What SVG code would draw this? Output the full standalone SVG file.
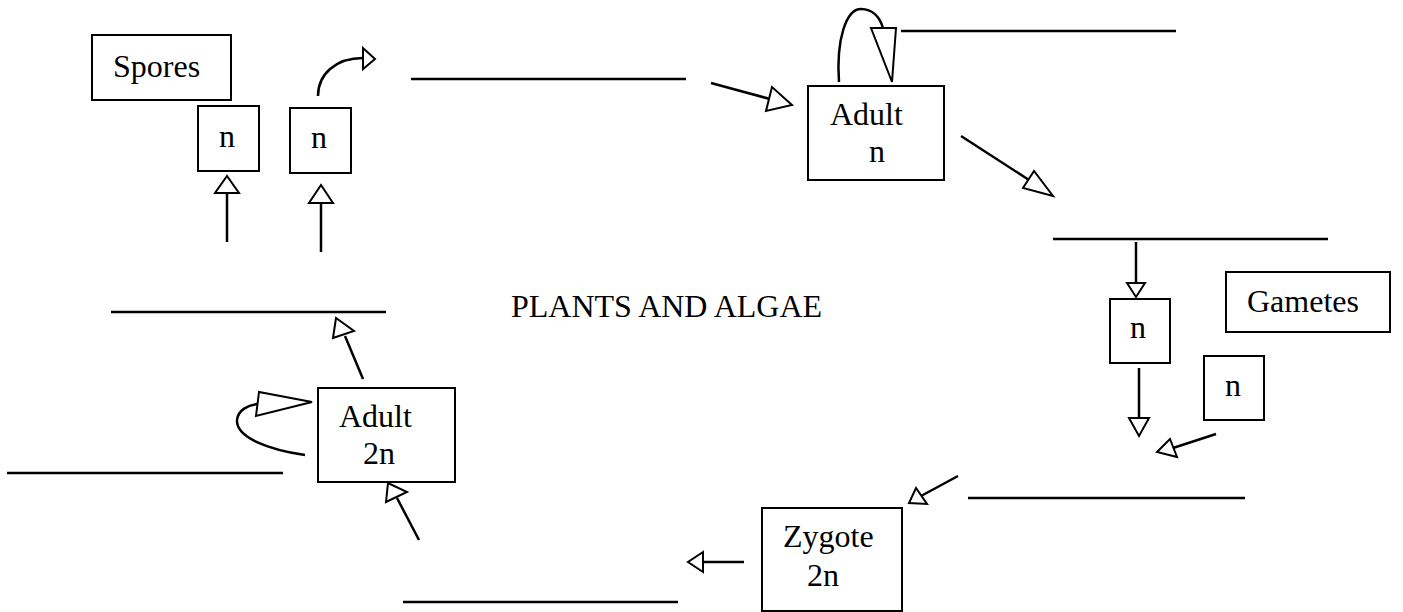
<svg xmlns="http://www.w3.org/2000/svg" width="1403" height="612" viewBox="0 0 1403 612">
<style>
.box{fill:#fff;stroke:#000;stroke-width:2}
.ln{fill:none;stroke:#000;stroke-width:2.5;stroke-linecap:butt}
.head{fill:#fff;stroke:#000;stroke-width:2;stroke-linejoin:miter}
text{font-family:"Liberation Serif","Times New Roman",serif;font-size:32px;fill:#000}
.c{text-anchor:middle}
</style>
<rect width="1403" height="612" fill="#fff"/>
<g id="connectors">
  <!-- blank lines -->
  <line class="ln" x1="411" y1="79" x2="686" y2="79"/>
  <line class="ln" x1="901" y1="31" x2="1176" y2="31"/>
  <line class="ln" x1="1053" y1="239" x2="1328" y2="239"/>
  <line class="ln" x1="968" y1="498" x2="1245" y2="498"/>
  <line class="ln" x1="403" y1="602" x2="678" y2="602"/>
  <line class="ln" x1="7" y1="473" x2="283" y2="473"/>
  <line class="ln" x1="111" y1="312" x2="386" y2="312"/>
  <!-- spores up arrows -->
  <line class="ln" x1="227" y1="242" x2="227" y2="193"/>
  <polygon class="head" points="215,193 239,193 227,176"/>
  <line class="ln" x1="321" y1="252" x2="321" y2="203"/>
  <polygon class="head" points="309,203 333,203 321,185"/>
  <!-- curved arrow from n box -->
  <path class="ln" d="M318,96 C318,74 336,58 363,58"/>
  <polygon class="head" points="363,48 363,69 375,59"/>
  <!-- to Adult n -->
  <line class="ln" x1="711" y1="83" x2="770" y2="99"/>
  <polygon class="head" points="772,87 766,111 792,105"/>
  <!-- Adult n self loop -->
  <path class="ln" d="M839,82 C836,40 846,9 861,9 C873,9 880,18 883,28"/>
  <polygon class="head" points="871,28 896,28 892,82"/>
  <!-- Adult n to down-right -->
  <line class="ln" x1="961" y1="136" x2="1029" y2="180"/>
  <polygon class="head" points="1034,171 1023,188 1053,196"/>
  <!-- down to gamete n -->
  <line class="ln" x1="1136" y1="242" x2="1136" y2="283"/>
  <polygon class="head" points="1127,283 1145,283 1136,297"/>
  <!-- down from gamete n -->
  <line class="ln" x1="1139" y1="368" x2="1139" y2="418"/>
  <polygon class="head" points="1129,418 1149,418 1139,436"/>
  <!-- from n2 -->
  <line class="ln" x1="1216" y1="434" x2="1173" y2="448"/>
  <polygon class="head" points="1170,439 1177,457 1157,452"/>
  <!-- to Zygote -->
  <line class="ln" x1="958" y1="476" x2="921" y2="496"/>
  <polygon class="head" points="916,488 927,504 909,503"/>
  <!-- left from Zygote -->
  <line class="ln" x1="744" y1="562" x2="703" y2="562"/>
  <polygon class="head" points="703,552 703,572 688,562"/>
  <!-- bottom to Adult 2n -->
  <line class="ln" x1="419" y1="540" x2="397" y2="498"/>
  <polygon class="head" points="386,502 407,492 388,483"/>
  <!-- Adult 2n self loop -->
  <path class="ln" d="M305,455 C270,450 236,438 237,420 C238,410 248,405 258,404"/>
  <polygon class="head" points="259,392 256,416 312,402"/>
  <!-- Adult 2n up -->
  <line class="ln" x1="363" y1="379" x2="345" y2="336"/>
  <polygon class="head" points="333,338 354,331 336,318"/>
</g>
<g id="spores">
  <rect class="box" x="92" y="35" width="139" height="65"/>
  <text x="113" y="77">Spores</text>
</g>
<g id="spore-n1">
  <rect class="box" x="198" y="106" width="61" height="65"/>
  <text class="c" x="227" y="147">n</text>
</g>
<g id="spore-n2">
  <rect class="box" x="290" y="108" width="61" height="65"/>
  <text class="c" x="319" y="148">n</text>
</g>
<g id="adult-n">
  <rect class="box" x="808" y="86" width="136" height="94"/>
  <text x="830" y="125">Adult</text>
  <text x="869" y="162">n</text>
</g>
<g id="gamete-n1">
  <rect class="box" x="1110" y="299" width="60" height="64"/>
  <text class="c" x="1138" y="338">n</text>
</g>
<g id="gametes">
  <rect class="box" x="1226" y="272" width="164" height="60"/>
  <text x="1247" y="312">Gametes</text>
</g>
<g id="gamete-n2">
  <rect class="box" x="1204" y="356" width="60" height="64"/>
  <text class="c" x="1233" y="396">n</text>
</g>
<g id="zygote">
  <rect class="box" x="762" y="508" width="140" height="103"/>
  <text x="783" y="547">Zygote</text>
  <text x="807" y="586">2n</text>
</g>
<g id="adult-2n">
  <rect class="box" x="318" y="388" width="137" height="94"/>
  <text x="339" y="427">Adult</text>
  <text x="363" y="464">2n</text>
</g>
<g id="title">
  <text x="511" y="317">PLANTS AND ALGAE</text>
</g>
</svg>
